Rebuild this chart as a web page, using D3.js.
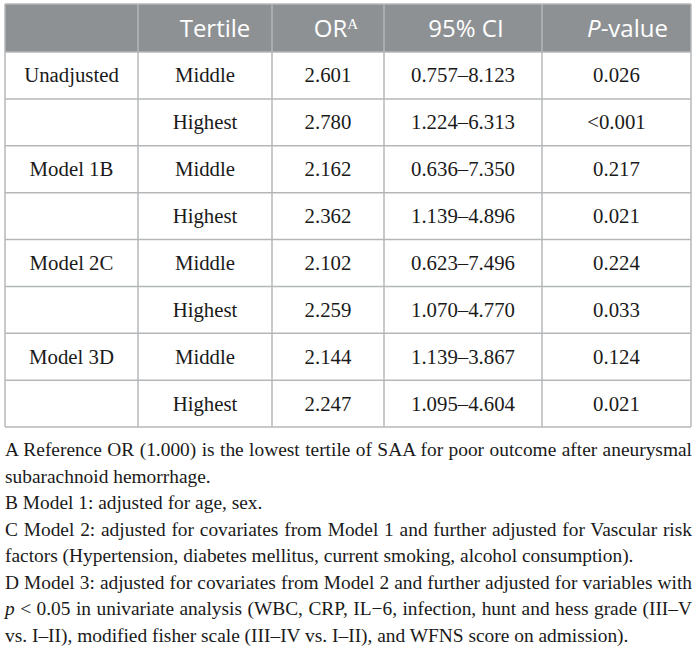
<!DOCTYPE html>
<html>
<head>
<meta charset="utf-8">
<script src="https://cdn.jsdelivr.net/npm/d3@7"></script>
<style>
  html, body { margin: 0; padding: 0; background: #fff; }
  svg { display: block; }
</style>
</head>
<body>
<svg id="chart"></svg>
<script>
// table data
const models = ["Unadjusted", "", "Model 1B", "", "Model 2C", "", "Model 3D", ""];
const tertiles = ["Middle", "Highest", "Middle", "Highest", "Middle", "Highest", "Middle", "Highest"];
const orValues = ["2.601", "2.780", "2.162", "2.362", "2.102", "2.259", "2.144", "2.247"];
const ciLow = ["0.757", "1.224", "0.636", "1.139", "0.623", "1.070", "1.139", "1.095"];
const ciHigh = ["8.123", "6.313", "7.350", "4.896", "7.496", "4.770", "3.867", "4.604"];
const pValues = ["0.026", "<0.001", "0.217", "0.021", "0.224", "0.033", "0.124", "0.021"];
const footnotes = [
    "A Reference OR (1.000) is the lowest tertile of SAA for poor outcome after aneurysmal",
    "subarachnoid hemorrhage.",
    "B Model 1: adjusted for age, sex.",
    "C Model 2: adjusted for covariates from Model 1 and further adjusted for Vascular risk",
    "factors (Hypertension, diabetes mellitus, current smoking, alcohol consumption).",
    "D Model 3: adjusted for covariates from Model 2 and further adjusted for variables with",
    "|p| < 0.05 in univariate analysis (WBC, CRP, IL\u22126, infection, hunt and hess grade (III\u2013V",
    "vs. I\u2013II), modified fisher scale (III\u2013IV vs. I\u2013II), and WFNS score on admission)."
];

const width = 696, height = 648;
const colEdges = [5, 138, 272, 384, 542, 691];
const tableTop = 4, headerBottom = 52, tableBottom = 427;
const lineColor = "#b4b7b9";
const headerFill = "#8d9194";
const serif = "'Liberation Serif', 'Times New Roman', serif";
const sans = "'Open Sans', 'Noto Sans', sans-serif";
// footnote lines that are justified to the full text width
const justified = [true, false, false, true, false, true, true, false];

const svg = d3.select("#chart").attr("width", width).attr("height", height);

const y = d3.scaleBand()
    .domain(d3.range(models.length))
    .range([headerBottom, tableBottom]);

const colMid = i => (colEdges[i] + colEdges[i + 1]) / 2;

// header background
svg.append("rect")
    .attr("x", colEdges[0]).attr("y", tableTop)
    .attr("width", colEdges[5] - colEdges[0])
    .attr("height", headerBottom - tableTop)
    .attr("fill", headerFill);

// header labels
const header = svg.append("g")
    .attr("font-family", sans)
    .attr("font-size", 24)
    .attr("fill", "#fff")
    .attr("text-anchor", "middle");

header.append("text").attr("x", colMid(1) + 10).attr("y", 37).text("Tertile");

const orHead = header.append("text").attr("x", colMid(2) + 8).attr("y", 37);
orHead.append("tspan").text("OR");
orHead.append("tspan")
    .attr("font-family", serif).attr("font-size", 15).attr("dy", -8).text("A");

header.append("text").attr("x", colMid(3) + 3).attr("y", 37).text("95% CI");

const pHead = header.append("text").attr("x", colMid(4) + 11).attr("y", 37);
pHead.append("tspan").attr("font-style", "italic").text("P");
pHead.append("tspan").text("-value");

// body cells
const body = svg.append("g")
    .attr("font-family", serif)
    .attr("font-size", 20.8)
    .attr("fill", "#1a1a1a")
    .attr("text-anchor", "middle");

const rows = body.selectAll("g.row")
    .data(d3.range(models.length))
    .join("g")
    .attr("class", "row")
    .attr("transform", i => `translate(0,${y(i) + y.bandwidth() / 2 + 7})`);

rows.append("text").attr("x", colMid(0)).text(i => models[i]);
rows.append("text").attr("x", colMid(1)).text(i => tertiles[i]);
rows.append("text").attr("x", colMid(2)).text(i => orValues[i]);
rows.append("text").attr("x", colMid(3)).text(i => `${ciLow[i]}\u2013${ciHigh[i]}`);
rows.append("text").attr("x", colMid(4)).text(i => pValues[i]);

// grid lines
const grid = svg.append("g")
    .attr("stroke", lineColor)
    .attr("stroke-width", 1.5)
    .attr("fill", "none");

grid.selectAll("line.h")
    .data(d3.range(models.length + 1))
    .join("line")
    .attr("class", "h")
    .attr("x1", colEdges[0]).attr("x2", colEdges[5])
    .attr("y1", i => i === models.length ? tableBottom : y(i))
    .attr("y2", i => i === models.length ? tableBottom : y(i));

grid.append("line")
    .attr("x1", colEdges[0]).attr("x2", colEdges[5])
    .attr("y1", tableTop).attr("y2", tableTop);

grid.selectAll("line.v")
    .data(colEdges)
    .join("line")
    .attr("class", "v")
    .attr("x1", d => d).attr("x2", d => d)
    .attr("y1", tableTop).attr("y2", tableBottom);

// footnotes
const notesLeft = 5, notesRight = 692;
const notes = svg.append("g")
    .attr("font-family", serif)
    .attr("font-size", 19.4)
    .attr("fill", "#1a1a1a");

notes.selectAll("text")
    .data(footnotes)
    .join("text")
    .attr("x", notesLeft)
    .attr("y", (d, i) => 456 + i * 26.5)
    .each(function (d, i) {
        const t = d3.select(this);
        d.split("|").forEach((p, k) => {
            if (!p) return;
            t.append("tspan")
                .attr("font-style", k === 1 ? "italic" : null)
                .text(p);
        });
        if (justified[i]) {
            // spread the words so the line ends at the right margin
            const natural = this.getComputedTextLength();
            const gaps = (d.match(/ /g) || []).length;
            if (gaps > 0) t.attr("word-spacing", (notesRight - notesLeft - natural) / gaps);
        }
    });
</script>
</body>
</html>
